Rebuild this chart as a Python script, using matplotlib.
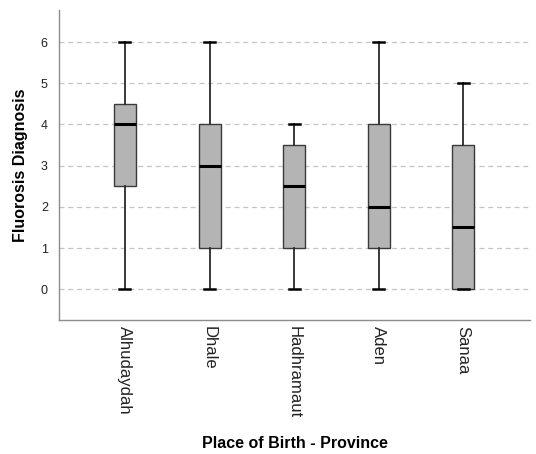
import matplotlib
matplotlib.use('Agg')
from matplotlib import pyplot as plt

plt.rcParams['font.family'] = ['Liberation Sans', 'DejaVu Sans']

# box stats
provinces = ['Alhudaydah', 'Dhale', 'Hadhramaut', 'Aden', 'Sanaa']
mins = [0, 0, 0, 0, 0]
q1s = [2.5, 1, 1, 1, 0]
medians = [4, 3, 2.5, 2, 1.5]
q3s = [4.5, 4, 3.5, 4, 3.5]
maxs = [6, 6, 4, 6, 5]

stats = []
for name, lo, q1, med, q3, hi in zip(provinces, mins, q1s, medians, q3s, maxs):
    stats.append({'label': name, 'whislo': lo, 'q1': q1, 'med': med,
                  'q3': q3, 'whishi': hi, 'fliers': []})

fig = plt.figure(figsize=(5.36, 4.54), dpi=100)
fig.patch.set_facecolor('white')
ax = fig.add_axes([0.110, 0.295, 0.879, 0.683])

ax.bxp(stats, positions=range(1, 6), widths=0.26, patch_artist=True,
       showfliers=False,
       boxprops=dict(facecolor='#b4b4b4', edgecolor='#3a3a3a', linewidth=1.0),
       medianprops=dict(color='black', linewidth=2.2),
       whiskerprops=dict(color='#2a2a2a', linewidth=1.3),
       capprops=dict(color='black', linewidth=1.8),
       capwidths=0.13)

ax.set_xlim(0.22, 5.79)
ax.set_ylim(-0.75, 6.78)
ax.set_yticks(range(0, 7))
ax.yaxis.grid(True, linestyle=(0, (4, 3)), color='#c4c4c4', linewidth=0.9)
ax.set_axisbelow(True)

for side in ['top', 'right']:
    ax.spines[side].set_visible(False)
for side in ['left', 'bottom']:
    ax.spines[side].set_color('#8c8c8c')
    ax.spines[side].set_linewidth(1.0)

ax.tick_params(axis='both', length=0)
ax.tick_params(axis='y', labelsize=9, pad=8, labelcolor='#222222')
ax.tick_params(axis='x', labelsize=12, pad=4, labelcolor='#222222')
for lbl in ax.get_xticklabels():
    lbl.set_rotation(270)
    lbl.set_va('top')
    lbl.set_ha('center')

ax.set_ylabel('Fluorosis Diagnosis', fontsize=11.5, fontweight='bold', labelpad=9)
ax.set_xlabel('Place of Birth - Province', fontsize=11.5, fontweight='bold', labelpad=13)

plt.savefig('out.png', dpi=100)
plt.close()
